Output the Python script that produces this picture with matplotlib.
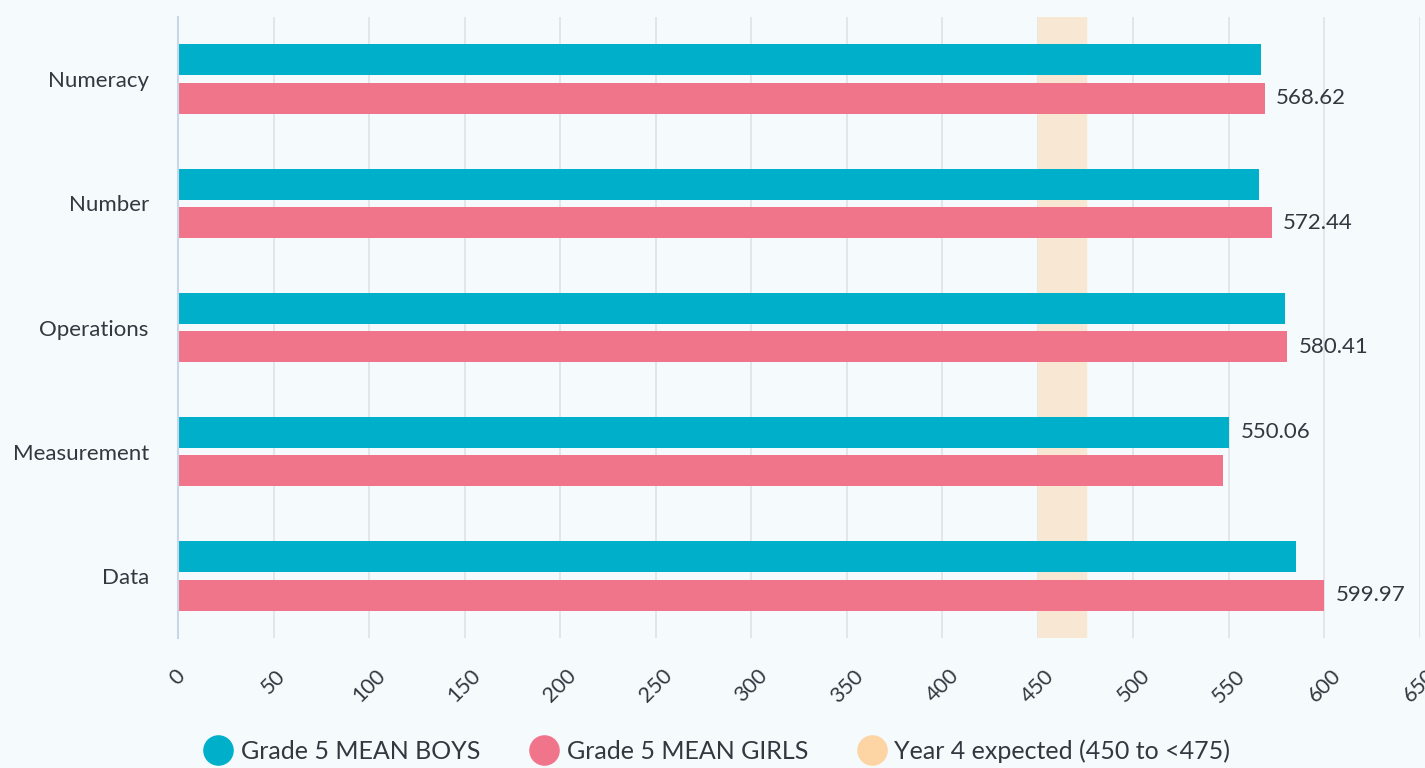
import matplotlib
matplotlib.use('Agg')
import matplotlib.pyplot as plt
from matplotlib.lines import Line2D

categories = ['Numeracy', 'Number', 'Operations', 'Measurement', 'Data']
boys = [567.0, 566.0, 579.5, 550.06, 585.0]
girls = [568.62, 572.44, 580.41, 547.0, 599.97]
band_lo = 450
band_hi = 475
xticks = list(range(0, 651, 50))

plt.rcParams['font.family'] = ['Lato', 'DejaVu Sans']
txt = '#333840'
bg = '#F5FAFD'

fig = plt.figure(figsize=(14.25, 7.68), dpi=100, facecolor=bg)
ax = fig.add_axes([178/1425, 1-638/768, (1420-178)/1425, (638-17)/768])
ax.set_facecolor(bg)

ax.axvspan(band_lo, band_hi, color='#F8E7D3', zorder=1)
for t in xticks[1:]:
    ax.axvline(t, color='#E0E2E4', lw=1.2, zorder=0)

h = 0.25
ys = list(range(len(categories)))
for i, c in enumerate(categories):
    ax.barh(i - 0.155, boys[i], height=h, color='#00B0CB', zorder=2)
    ax.barh(i + 0.155, girls[i], height=h, color='#F0758B', zorder=2)
    # value shown only on the longer bar
    if girls[i] >= boys[i]:
        ax.text(girls[i] + 6, i + 0.155, '%.2f' % girls[i], va='center', ha='left',
                fontsize=16, color=txt, zorder=3)
    else:
        ax.text(boys[i] + 6, i - 0.155, '%.2f' % boys[i], va='center', ha='left',
                fontsize=16, color=txt, zorder=3)

ax.set_ylim(4.5, -0.5)
ax.set_xlim(0, 650)
ax.set_yticks(ys)
ax.set_yticklabels(categories, fontsize=16, color=txt)
ax.set_xticks(xticks)
ax.set_xticklabels([str(t) for t in xticks], rotation=45, fontsize=15.5, color=txt,
                   ha='center', va='top')
ax.tick_params(axis='y', length=0, pad=21)
ax.tick_params(axis='x', length=0, pad=20)
for s in ['top', 'right', 'bottom']:
    ax.spines[s].set_visible(False)
ax.spines['left'].set_color('#C9D6E6')
ax.spines['left'].set_linewidth(1.5)

handles = [Line2D([], [], marker='o', ls='', markersize=21, color='#00B0CB'),
           Line2D([], [], marker='o', ls='', markersize=21, color='#F0758B'),
           Line2D([], [], marker='o', ls='', markersize=21, color='#FDD5A4')]
labels = ['Grade 5 MEAN BOYS', 'Grade 5 MEAN GIRLS', 'Year 4 expected (450 to <475)']
fig.legend(handles, labels, loc='center', bbox_to_anchor=(0.503, 1-751/768), ncol=3,
           frameon=False, fontsize=18, labelcolor=txt, handletextpad=0.3,
           columnspacing=1.95, handlelength=1.2)

plt.savefig('out.png', facecolor=bg)
